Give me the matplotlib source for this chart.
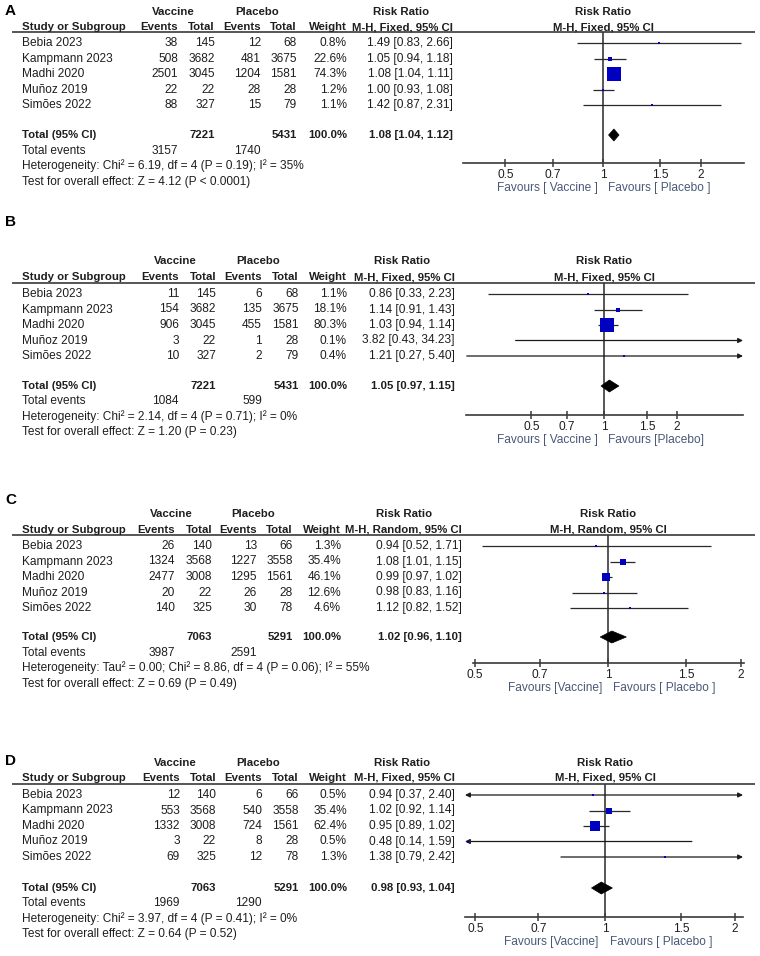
import numpy as np
import matplotlib
matplotlib.use("Agg")
import matplotlib.pyplot as plt
from matplotlib.patches import Polygon
from matplotlib.ticker import FixedLocator, FixedFormatter, NullLocator

plt.rcParams['font.family'] = ['Liberation Sans', 'DejaVu Sans']

# ---------------- data ----------------
studies = ["Bebia 2023", "Kampmann 2023", "Madhi 2020", "Muñoz 2019", "Simões 2022"]

a_vac_events = [38, 508, 2501, 22, 88]
a_vac_total = [145, 3682, 3045, 22, 327]
a_pla_events = [12, 481, 1204, 28, 15]
a_pla_total = [68, 3675, 1581, 28, 79]
a_weight = [0.8, 22.6, 74.3, 1.2, 1.1]
a_rr = [1.49, 1.05, 1.08, 1.00, 1.42]
a_lo = [0.83, 0.94, 1.04, 0.93, 0.87]
a_hi = [2.66, 1.18, 1.11, 1.08, 2.31]
a_tot = [7221, 5431]
a_tot_events = [3157, 1740]
a_pooled = [1.08, 1.04, 1.12]
a_het = "Heterogeneity: Chi² = 6.19, df = 4 (P = 0.19); I² = 35%"
a_test = "Test for overall effect: Z = 4.12 (P < 0.0001)"

b_vac_events = [11, 154, 906, 3, 10]
b_vac_total = [145, 3682, 3045, 22, 327]
b_pla_events = [6, 135, 455, 1, 2]
b_pla_total = [68, 3675, 1581, 28, 79]
b_weight = [1.1, 18.1, 80.3, 0.1, 0.4]
b_rr = [0.86, 1.14, 1.03, 3.82, 1.21]
b_lo = [0.33, 0.91, 0.94, 0.43, 0.27]
b_hi = [2.23, 1.43, 1.14, 34.23, 5.40]
b_tot = [7221, 5431]
b_tot_events = [1084, 599]
b_pooled = [1.05, 0.97, 1.15]
b_het = "Heterogeneity: Chi² = 2.14, df = 4 (P = 0.71); I² = 0%"
b_test = "Test for overall effect: Z = 1.20 (P = 0.23)"

c_vac_events = [26, 1324, 2477, 20, 140]
c_vac_total = [140, 3568, 3008, 22, 325]
c_pla_events = [13, 1227, 1295, 26, 30]
c_pla_total = [66, 3558, 1561, 28, 78]
c_weight = [1.3, 35.4, 46.1, 12.6, 4.6]
c_rr = [0.94, 1.08, 0.99, 0.98, 1.12]
c_lo = [0.52, 1.01, 0.97, 0.83, 0.82]
c_hi = [1.71, 1.15, 1.02, 1.16, 1.52]
c_tot = [7063, 5291]
c_tot_events = [3987, 2591]
c_pooled = [1.02, 0.96, 1.10]
c_het = "Heterogeneity: Tau² = 0.00; Chi² = 8.86, df = 4 (P = 0.06); I² = 55%"
c_test = "Test for overall effect: Z = 0.69 (P = 0.49)"

d_vac_events = [12, 553, 1332, 3, 69]
d_vac_total = [140, 3568, 3008, 22, 325]
d_pla_events = [6, 540, 724, 8, 12]
d_pla_total = [66, 3558, 1561, 28, 78]
d_weight = [0.5, 35.4, 62.4, 0.5, 1.3]
d_rr = [0.94, 1.02, 0.95, 0.48, 1.38]
d_lo = [0.37, 0.92, 0.89, 0.14, 0.79]
d_hi = [2.40, 1.14, 1.02, 1.59, 2.42]
d_tot = [7063, 5291]
d_tot_events = [1969, 1290]
d_pooled = [0.98, 0.93, 1.04]
d_het = "Heterogeneity: Chi² = 3.97, df = 4 (P = 0.41); I² = 0%"
d_test = "Test for overall effect: Z = 0.64 (P = 0.52)"

total_weight = "100.0%"
tick_values = [0.5, 0.7, 1, 1.5, 2]
tick_labels = ["0.5", "0.7", "1", "1.5", "2"]

panels = [
    dict(label="A", method="M-H, Fixed, 95% CI",
         ve=a_vac_events, vt=a_vac_total, pe=a_pla_events, pt=a_pla_total,
         w=a_weight, rr=a_rr, lo=a_lo, hi=a_hi, tot=a_tot, te=a_tot_events,
         pooled=a_pooled, het=a_het, test=a_test,
         fav=("Favours [ Vaccine ]", "Favours [ Placebo ]")),
    dict(label="B", method="M-H, Fixed, 95% CI",
         ve=b_vac_events, vt=b_vac_total, pe=b_pla_events, pt=b_pla_total,
         w=b_weight, rr=b_rr, lo=b_lo, hi=b_hi, tot=b_tot, te=b_tot_events,
         pooled=b_pooled, het=b_het, test=b_test,
         fav=("Favours [ Vaccine ]", "Favours [Placebo]")),
    dict(label="C", method="M-H, Random, 95% CI",
         ve=c_vac_events, vt=c_vac_total, pe=c_pla_events, pt=c_pla_total,
         w=c_weight, rr=c_rr, lo=c_lo, hi=c_hi, tot=c_tot, te=c_tot_events,
         pooled=c_pooled, het=c_het, test=c_test,
         fav=("Favours [Vaccine]", "Favours [ Placebo ]")),
    dict(label="D", method="M-H, Fixed, 95% CI",
         ve=d_vac_events, vt=d_vac_total, pe=d_pla_events, pt=d_pla_total,
         w=d_weight, rr=d_rr, lo=d_lo, hi=d_hi, tot=d_tot, te=d_tot_events,
         pooled=d_pooled, het=d_het, test=d_test,
         fav=("Favours [Vaccine]", "Favours [ Placebo ]")),
]

# ---------------- layout (pixels) ----------------
layouts = [
    dict(lab=(5, 11), h1=12, h2=27, line=32, row0=43, total=135, axis=163,
         cols=(22, 178, 215, 261, 297, 347, 453), vacc=173, plac=257, rrh=401,
         axx=(463, 744), xlim=(0.37, 2.72), fav_dx=(5, 5)),
    dict(lab=(5, 222), h1=261, h2=277, line=283, row0=294, total=386, axis=415,
         cols=(22, 179, 216, 262, 299, 347, 455), vacc=175, plac=258, rrh=402,
         axx=(466, 743), xlim=(0.268, 3.75), fav_dx=(6, 4)),
    dict(lab=(5, 500), h1=514, h2=530, line=535, row0=546, total=637, axis=663,
         cols=(22, 175, 212, 257, 293, 341, 462), vacc=171, plac=253, rrh=404,
         axx=(473, 744), xlim=(0.495, 2.03), fav_dx=(6, 5)),
    dict(lab=(5, 761), h1=763, h2=778, line=784, row0=795, total=888, axis=917,
         cols=(22, 180, 216, 262, 299, 347, 455), vacc=175, plac=258, rrh=402,
         axx=(465, 743), xlim=(0.473, 2.09), fav_dx=(7, 5)),
]

W, H = 760, 956
STEP = 15.5
FS = 8.6
FSB = 8.2
TXT = '#1e1e1e'
LINE = '#3a3a3a'
BLUE = '#0000c0'
FAVC = '#4a5878'

fig = plt.figure(figsize=(W / 100, H / 100), dpi=100)
bg = fig.add_axes([0, 0, 1, 1])
bg.set_xlim(0, W)
bg.set_ylim(H, 0)
bg.axis('off')


def t(x, y, s, ha='left', bold=False, **kw):
    bg.text(x, y, s, ha=ha, va='center', fontsize=FSB if bold else FS, color=TXT,
            fontweight='bold' if bold else 'normal', **kw)


for p, L in zip(panels, layouts):
    sx, c_ve, c_vt, c_pe, c_pt, c_w, c_rr = L['cols']
    bg.text(L['lab'][0], L['lab'][1], p['label'], fontsize=11, fontweight='bold',
            ha='left', va='center', color='#000000')
    t(L['vacc'], L['h1'], "Vaccine", ha='center', bold=True)
    t(L['plac'], L['h1'], "Placebo", ha='center', bold=True)
    t(L['rrh'], L['h1'], "Risk Ratio", ha='center', bold=True)
    t(sx, L['h2'], "Study or Subgroup", bold=True)
    t(c_ve, L['h2'], "Events", ha='right', bold=True)
    t(c_vt, L['h2'], "Total", ha='right', bold=True)
    t(c_pe, L['h2'], "Events", ha='right', bold=True)
    t(c_pt, L['h2'], "Total", ha='right', bold=True)
    t(c_w, L['h2'], "Weight", ha='right', bold=True)
    t(c_rr, L['h2'], p['method'], ha='right', bold=True)
    bg.plot([12, 755], [L['line'], L['line']], color=LINE, lw=1.2,
            solid_capstyle='butt')

    rows_y = [L['row0'] + i * STEP for i in range(len(studies))]
    for i, y in enumerate(rows_y):
        t(sx, y, studies[i])
        t(c_ve, y, str(p['ve'][i]), ha='right')
        t(c_vt, y, str(p['vt'][i]), ha='right')
        t(c_pe, y, str(p['pe'][i]), ha='right')
        t(c_pt, y, str(p['pt'][i]), ha='right')
        t(c_w, y, f"{p['w'][i]:.1f}%", ha='right')
        t(c_rr, y, f"{p['rr'][i]:.2f} [{p['lo'][i]:.2f}, {p['hi'][i]:.2f}]", ha='right')

    ty = L['total']
    pr = p['pooled']
    t(sx, ty, "Total (95% CI)", bold=True)
    t(c_vt, ty, str(p['tot'][0]), ha='right', bold=True)
    t(c_pt, ty, str(p['tot'][1]), ha='right', bold=True)
    t(c_w, ty, total_weight, ha='right', bold=True)
    t(c_rr, ty, f"{pr[0]:.2f} [{pr[1]:.2f}, {pr[2]:.2f}]", ha='right', bold=True)
    t(sx, ty + STEP, "Total events")
    t(c_ve, ty + STEP, str(p['te'][0]), ha='right')
    t(c_pe, ty + STEP, str(p['te'][1]), ha='right')
    t(sx, ty + 2 * STEP, p['het'])
    t(sx, ty + 3 * STEP, p['test'])

    # forest axes
    x0, x1 = L['axx']
    y0, y1 = L['line'], L['axis']
    ax = fig.add_axes([x0 / W, 1 - y1 / H, (x1 - x0) / W, (y1 - y0) / H])
    ax.patch.set_alpha(0)
    ax.set_xscale('log')
    lo_lim, hi_lim = L['xlim']
    ax.set_xlim(lo_lim, hi_lim)
    ax.set_ylim(y1, y0)
    for s in ('top', 'left', 'right'):
        ax.spines[s].set_visible(False)
    ax.spines['bottom'].set_color(LINE)
    ax.spines['bottom'].set_linewidth(1.2)
    ax.xaxis.set_major_locator(FixedLocator(tick_values))
    ax.xaxis.set_major_formatter(FixedFormatter(tick_labels))
    ax.xaxis.set_minor_locator(NullLocator())
    ax.tick_params(axis='x', direction='inout', length=6, width=1.1, color=LINE,
                   labelsize=FS, labelcolor=TXT, pad=1.5)
    ax.set_yticks([])
    ax.axvline(1, color=LINE, lw=1.2)

    for i, y in enumerate(rows_y):
        lo, hi, rr = p['lo'][i], p['hi'][i], p['rr'][i]
        a = max(lo, lo_lim)
        b = min(hi, hi_lim)
        left_arrow = lo < lo_lim
        right_arrow = hi > hi_lim
        if left_arrow and right_arrow:
            style = '<|-|>'
        elif right_arrow:
            style = '-|>'
        elif left_arrow:
            style = '<|-'
        else:
            style = None
        if style is None:
            ax.plot([a, b], [y, y], color='#2a2a2a', lw=0.9,
                    solid_capstyle='butt', clip_on=False)
        else:
            ax.annotate('', xy=(b, y), xytext=(a, y),
                        arrowprops=dict(arrowstyle=style, color='#1a1a1a', lw=0.9,
                                        mutation_scale=7, shrinkA=0, shrinkB=0),
                        annotation_clip=False)
        if lo_lim <= rr <= hi_lim:
            side = max(2.0, 0.175 * p['w'][i])
            ax.plot([rr], [y], 's', ms=side * 0.72, color=BLUE, mew=0, zorder=5,
                    clip_on=False)

    diamond = Polygon([(pr[1], ty), (pr[0], ty - 6), (pr[2], ty), (pr[0], ty + 6)],
                      closed=True, facecolor='black', edgecolor='black', lw=0.5,
                      zorder=6, clip_on=False)
    ax.add_patch(diamond)

    ax.text(1, L['h1'], "Risk Ratio", ha='center', va='center', fontsize=FSB,
            fontweight='bold', color=TXT, clip_on=False)
    ax.text(1, L['h2'], p['method'], ha='center', va='center', fontsize=FSB,
            fontweight='bold', color=TXT, clip_on=False)
    fy = L['axis'] + 25
    ax.annotate(p['fav'][0], xy=(1, fy), xytext=(-L['fav_dx'][0], 0),
                textcoords='offset pixels', ha='right', va='center', fontsize=FS,
                color=FAVC, annotation_clip=False)
    ax.annotate(p['fav'][1], xy=(1, fy), xytext=(L['fav_dx'][1], 0),
                textcoords='offset pixels', ha='left', va='center', fontsize=FS,
                color=FAVC, annotation_clip=False)

fig.savefig("out.png", dpi=100)
